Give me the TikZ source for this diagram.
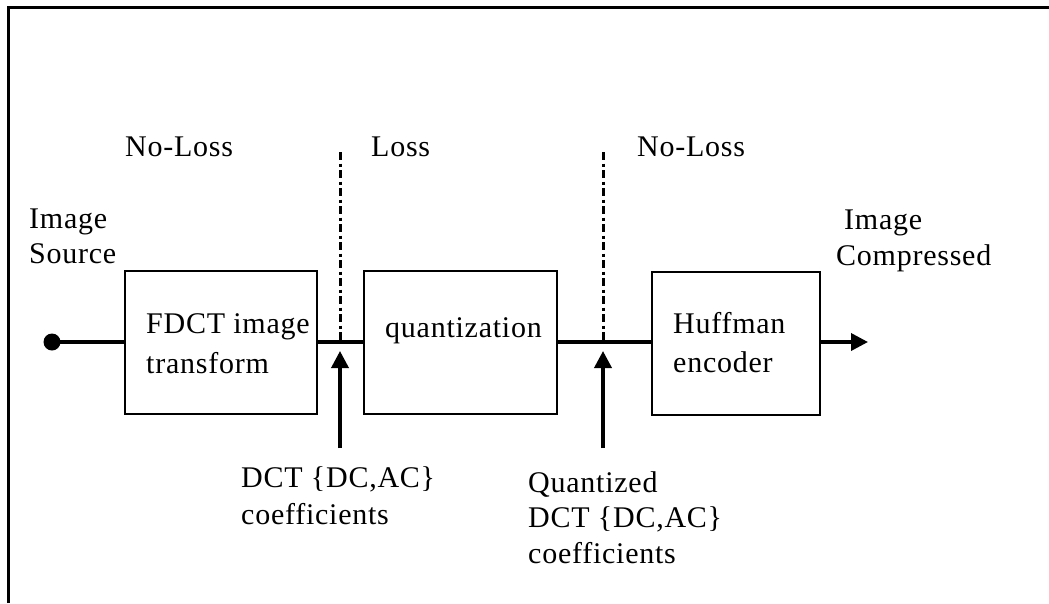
\documentclass[tikz,border=0pt]{standalone}
\usepackage{fontspec}
\setmainfont{Liberation Serif}[LetterSpace=2.5]
\usetikzlibrary{arrows.meta}
\begin{document}
\begin{tikzpicture}[x=1pt,y=-1pt,
  blockbox/.style={draw,line width=2pt,minimum height=143pt,inner sep=0pt},
  lbl/.style={anchor=base west,inner sep=0pt,font=\fontsize{30}{36}\selectfont},
  flow/.style={line width=3.6pt},
  divider/.style={line width=3pt,dash pattern=on 8pt off 3.5pt on 3pt off 3.5pt},
  feed/.style={line width=3.6pt,-{Triangle[length=17pt,width=17pt]}}]
\useasboundingbox (0,0) rectangle (1049,603);
\draw[line width=2.2pt] (8.5,603) -- (8.5,7.5) -- (1049,7.5);
% blocks
\node[blockbox,minimum width=192pt] (fdct) at (221,342.5) {};
\node[blockbox,minimum width=193pt] (quant) at (460.5,342.5) {};
\node[blockbox,minimum width=168pt] (huff) at (736,343) {};
% block texts
\node[lbl] (t1a) at (146,333) {FDCT image};
\node[lbl] (t1b) at (146,373) {transform};
\node[lbl] (t2) at (385,337) {quantization};
\node[lbl] (t3a) at (673,333) {Huffman};
\node[lbl] (t3b) at (673,372) {encoder};
% top labels
\node[lbl] (nl1) at (125,156) {No-Loss};
\node[lbl] (loss) at (371,156) {Loss};
\node[lbl] (nl2) at (637,156) {No-Loss};
\node[lbl] (is1) at (29,228) {Image};
\node[lbl] (is2) at (29,263) {Source};
\node[lbl] (ic1) at (844,229) {Image};
\node[lbl] (ic2) at (836,265) {Compressed};
% bottom labels
\node[lbl] (d1a) at (241,487) {DCT \{DC,AC\}};
\node[lbl] (d1b) at (241,524) {coefficients};
\node[lbl] (d2a) at (528,492) {Quantized};
\node[lbl] (d2b) at (528,527) {DCT \{DC,AC\}};
\node[lbl] (d2c) at (528,563) {coefficients};
% flow line
\node[circle,fill,inner sep=0pt,minimum size=17pt] (src) at (52,342) {};
\coordinate (out) at (868,342);
\draw[flow] (src.center) -- (fdct.west |- src);
\draw[flow] (fdct.east |- src) -- (quant.west |- src);
\draw[flow] (quant.east |- src) -- (huff.west |- src);
\draw[feed] (huff.east |- src) -- (out);
% dividers
\coordinate (v1top) at (340,152);
\coordinate (v1bot) at (340,342);
\coordinate (v2top) at (603,152);
\coordinate (v2bot) at (603,342);
\draw[divider] (v1top) -- (v1bot);
\draw[divider] (v2top) -- (v2bot);
% feed arrows
\coordinate (a1s) at (340,448);
\coordinate (a1e) at (340,351);
\coordinate (a2s) at (603,448);
\coordinate (a2e) at (603,351);
\draw[feed] (a1s) -- (a1e);
\draw[feed] (a2s) -- (a2e);
\end{tikzpicture}
\end{document}
